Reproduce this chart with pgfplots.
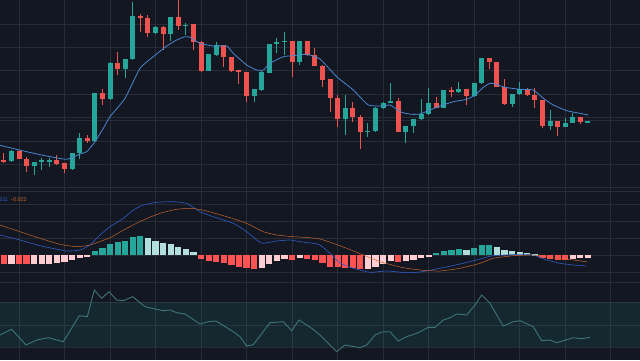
\documentclass[border=0pt]{standalone}
\usepackage{pgfplots}
\pgfplotsset{compat=1.18}
\usepackage{pgfplotstable}
\usepackage{fontspec}
\setmainfont{Liberation Sans}
\definecolor{bg}{HTML}{131722}
\definecolor{gridc}{HTML}{282C37}
\definecolor{sepc}{HTML}{363A46}
\definecolor{cgreen}{HTML}{26A69A}
\definecolor{cred}{HTML}{EF5350}
\definecolor{malc}{HTML}{4A86D0}
\definecolor{macdb}{HTML}{2F5CC4}
\definecolor{macdo}{HTML}{C8652E}
\definecolor{hgreen}{HTML}{26A69A}
\definecolor{hlgreen}{HTML}{B2DFDB}
\definecolor{hred}{HTML}{FF5252}
\definecolor{hpink}{HTML}{FFCDD2}
\definecolor{rsil}{HTML}{3F7478}

\pgfplotsset{
  candle/.style 2 args={draw=none, mark=none, forget plot,
    error bars/.cd, y dir=both, y explicit, error mark=none,
    error bar style={line width=#1, draw=#2}},
}

% candles: pixel y values (top, bottom of body; high, low of wick)
\pgfplotstableread{
i top bot hi lo
1 151 161 150 162
4 162.3 165.7 161.5 175
5 160.3 162.3 158.3 170
6 160 161 158 166.7
9 153.3 168.7 152.7 169.5
10 138.3 153.3 133.3 159.3
12 93.3 141.3 93 142
14 62.7 99.3 62 100
16 59 69.3 58.5 77.7
17 16 59 1.7 59.5
20 26.7 33.3 26 34
22 17.3 34 17 40.7
24 24.5 25.7 22.7 35
27 54 70.7 53.5 71
28 45 55 41.7 55.5
33 89.3 96 89 101.7
34 71.7 90 71 90.5
35 44.3 72.7 44 73
36 41.7 44.3 38.3 53.3
37 40.8 41.8 32.3 55
39 41 62.3 40.5 65
45 108.3 119 95 135
48 130.5 131.5 123 136.7
49 107.7 131 107 131.5
50 102.7 108.3 102 109
51 100.7 102.7 83.3 103
53 126 131.7 125.5 143.3
54 119 126 118.5 132.7
55 114.3 119 99.3 119.5
56 103.3 114.3 88.3 115
58 90 107.7 89.5 108
60 89 92.3 81.7 92.5
62 83.3 96 83 96.5
63 58.3 83.3 57.5 84
67 94.3 104 94 106.7
68 89.3 94.3 81.7 94.5
72 121 126 110 130
74 122.7 126.7 118.3 127
75 117.3 122.7 113.3 123.3
77 121.2 122.2 120.8 122.6
}\greencandles

\pgfplotstableread{
i top bot hi lo
0 160 161.3 152.7 162.7
2 151 158.7 149.5 159
3 158.7 165.7 157 171.7
7 160 164 155 164.5
8 163.3 168.7 162.5 173.3
11 138.3 141.3 135 142.7
13 93.3 99.3 89.3 105
15 62.7 69.3 51.7 75
18 15.7 18 14 31.7
19 18 33.3 15 36.7
21 26.7 34 26 50
23 17.3 26 0 30
25 24.3 41.7 24 50
26 41.7 70.7 41 71.5
29 45 57.3 44.5 66.7
30 57.3 70.7 57 71.5
31 70 72 69.5 84
32 71.7 96 71.5 101.7
38 41 62.3 40.5 76.7
40 41 55 40.5 55.5
41 55 65.7 48.3 66
42 65.7 80 65 87.3
43 79.3 97.7 79 111.7
44 97.7 119 95 126.7
46 108.3 116.7 101.7 121.7
47 116.7 131.7 115 149.3
52 100.7 131.7 98 132
57 102.7 107.7 96.7 108
59 90 92.3 86.7 96.7
61 89 96 88.5 105
64 58.3 62.3 57.5 69
65 62.3 86.7 62 87
66 86.7 104 79.3 104.5
69 89.3 95 87.7 95.5
70 95 100 88.3 108.3
71 100 126 99.5 127.7
73 121 126.7 120.5 136
76 117.3 122.3 116.5 123.5
}\redcandles

% MACD histogram (pixel y of bar end, zero at 255)
\pgfplotstableread{
i v
12 251
13 248.3
14 244
15 242.3
16 240.7
17 237.3
18 235.7
57 252.7
58 251
59 250
60 249.3
62 247.7
63 245.3
64 245
}\hg
\pgfplotstableread{
i v
19 238.3
20 240.7
21 243
22 244.3
23 246.7
24 249
25 252.3
61 249.7
65 247.3
66 250
67 251
68 252.3
69 253
70 254
}\hlg
\pgfplotstableread{
i v
0 264.3
2 264.3
3 264.3
26 259
27 260.7
28 261.7
29 263.3
30 265
31 266.7
32 268.3
33 269.3
38 260
40 259
41 260
42 263.3
43 266.7
44 267.3
45 267.5
46 268.3
47 269.3
52 261.7
71 257.7
72 259
73 259.7
74 260.3
}\hr
\pgfplotstableread{
i v
1 264.3
4 264.3
5 263.7
6 263.7
7 262.7
8 261.7
9 260
10 258.3
11 256.7
34 267.7
35 264.3
36 261
37 259
39 258.3
48 269
49 266.7
50 264
51 261
53 261
54 259.7
55 257.7
56 256
75 259
76 258.3
77 257.7
}\hp

\begin{document}
\begin{tikzpicture}
\begin{axis}[
  at={(0,0)}, anchor=south west,
  width=640pt, height=360pt, scale only axis,
  xmin=0, xmax=640, ymin=0, ymax=360, y dir=reverse,
  axis background/.style={fill=bg},
  axis line style={draw=none},
  major tick length=0pt,
  xticklabels={}, yticklabels={},
  xtick={19,64.52,110.04,155.56,201.08,246.6,292.12,337.64,383.16,428.68,474.2,519.72,565.24,610.76},
  ytick={24,47.4,70.8,94.2,117.6,141,164.4,187.8,204.3,221,238.3,255,272,302.3,325,347.3},
  extra y ticks={191.7,282.5,120.8},
  extra y tick labels={},
  extra y tick style={grid style={color=sepc, line width=0.8pt}},
  grid=major,
  major grid style={color=gridc, line width=0.8pt},
  clip=true,
]
% RSI band
\fill[cgreen, fill opacity=0.12] (axis cs:0,302.3) rectangle (axis cs:640,347.3);

% wicks
\addplot[candle={1pt}{cgreen}]
  table[x expr=3.828+7.586*\thisrow{i}, y expr=(\thisrow{hi}+\thisrow{lo})/2, y error expr=(\thisrow{lo}-\thisrow{hi})/2] {\greencandles};
\addplot[candle={1pt}{cred}]
  table[x expr=3.828+7.586*\thisrow{i}, y expr=(\thisrow{hi}+\thisrow{lo})/2, y error expr=(\thisrow{lo}-\thisrow{hi})/2] {\redcandles};
% bodies
\addplot[candle={5pt}{cgreen}]
  table[x expr=3.828+7.586*\thisrow{i}, y expr=(\thisrow{top}+\thisrow{bot})/2, y error expr=(\thisrow{bot}-\thisrow{top})/2] {\greencandles};
\addplot[candle={5pt}{cred}]
  table[x expr=3.828+7.586*\thisrow{i}, y expr=(\thisrow{top}+\thisrow{bot})/2, y error expr=(\thisrow{bot}-\thisrow{top})/2] {\redcandles};

% moving average
\addplot[malc, line width=0.8pt, mark=none, smooth, tension=0.3] coordinates {
(0,145.3)(26.7,151.7)(46.7,156)(66.7,159.3)(80,154)(86.7,151.7)(95,141.7)(103.3,128.3)(110,116.7)(125,98.3)(140,68.3)(153.3,56.7)(166.7,46)(176.7,40)(185,36.7)(190,37.3)(200,43.3)(213.3,46)(226.7,46)(233.3,53.3)(246.7,65)(256.7,70)(263.3,70)(270,63.3)(283.3,56.7)(293.3,55.7)(306.7,54.3)(320,59)(336.7,76.7)(353.3,90)(368.3,105)(383.3,106)(390,105)(401.7,112.3)(411.7,114.3)(420,114)(430,110)(440,106)(453.3,101.7)(466.7,99.3)(475,95)(483.3,87.3)(490,83.3)(495,84)(505,87.3)(520,89.3)(533.3,90)(543.3,98.3)(553.3,105)(566.7,110.7)(580,113.3)(588.3,115)
};

% MACD histogram
\addplot[candle={6.2pt}{hgreen}]
  table[x expr=3.828+7.586*\thisrow{i}, y expr=(255+\thisrow{v})/2, y error expr=abs(\thisrow{v}-255)/2] {\hg};
\addplot[candle={6.2pt}{hlgreen}]
  table[x expr=3.828+7.586*\thisrow{i}, y expr=(255+\thisrow{v})/2, y error expr=abs(\thisrow{v}-255)/2] {\hlg};
\addplot[candle={6.2pt}{hred}]
  table[x expr=3.828+7.586*\thisrow{i}, y expr=(255+\thisrow{v})/2, y error expr=abs(\thisrow{v}-255)/2] {\hr};
\addplot[candle={6.2pt}{hpink}]
  table[x expr=3.828+7.586*\thisrow{i}, y expr=(255+\thisrow{v})/2, y error expr=abs(\thisrow{v}-255)/2] {\hp};

% MACD line
\addplot[macdb, line width=0.6pt, mark=none, smooth, tension=0.3] coordinates {
(0,235)(20,240)(40,245.7)(66.7,251)(80,250)(90,245)(100,235)(110,226.7)(123.3,218.3)(133.3,210)(143.3,205)(156.7,202.3)(173.3,201.7)(186.7,203.3)(200,211.7)(213.3,216.7)(233.3,223.3)(246.7,231.7)(256.7,240)(263.3,243.3)(276.7,241)(290,240)(300,241.7)(313.3,243.3)(320,245)(330,253.3)(340,263)(353.3,268.3)(370,272.3)(386.7,271)(406.7,272.7)(420,272)(440,268.3)(463.3,263.3)(480,259)(493.3,255.7)(520,254.3)(533.3,255)(546.7,260)(560,263.3)(573.3,265)(586.7,266)
};
% signal line
\addplot[macdo, line width=0.5pt, mark=none, smooth, tension=0.3] coordinates {
(0,225)(20,231.7)(40,238.3)(60,244.3)(76.7,246.7)(90,245)(110,237.7)(126.7,228.3)(143.3,220)(160,213.3)(176.7,209.3)(191.7,208.3)(206.7,211)(226.7,216.7)(246.7,223.3)(263.3,231.7)(276.7,235)(293.3,236.7)(310,237.7)(320,239)(333.3,243.3)(346.7,248.3)(363.3,255)(380,261.7)(403.3,267.7)(423.3,270.3)(440,271)(460,268.3)(480,263.3)(493.3,258.3)(513.3,255.7)(533.3,255)(553.3,257.7)(573.3,260)(586.7,261.7)
};

% RSI
\addplot[rsil, line width=0.9pt, mark=none] coordinates {
(0,335)(11.7,329.3)(26,345)(36.7,340)(48.3,337.7)(63.3,341.7)(79.3,315.7)(87.3,316.7)(94.3,290)(101.7,298.3)(109,291.7)(116.7,300)(123.3,300.7)(132.7,296.7)(145,306.7)(155,309)(163.3,310.7)(170,310)(176.7,312.7)(185,314)(200,324)(208.3,321.7)(216,321)(233.3,331.7)(240,336.7)(246.7,346)(253.3,344.7)(270,322.7)(283.3,321.7)(291.7,330.7)(299,320)(311.7,328.3)(320,335)(336.7,351.7)(345,345)(360,347.7)(366.7,345)(375,335)(381.7,332)(390,331.7)(398.3,341)(406.7,336.7)(416.7,333.3)(420,331.7)(428.3,327.3)(435,327.3)(443.3,320)(450,317.7)(456.7,314)(466.7,315)(475,305)(481.7,295)(490,303.3)(496.7,315)(503.3,326)(513.3,321.7)(520,320.7)(533.3,326.7)(541.7,340.7)(550,340)(556.7,342.7)(573.3,337.7)(581.7,338.7)(590,337.3)
};

\node[anchor=base east, font=\fontsize{5.5}{6}\selectfont, text=macdb, inner sep=0pt] at (axis cs:8.5,201.5) {-0.011};
\node[anchor=base west, font=\fontsize{5.5}{6}\selectfont, text=macdo, inner sep=0pt] at (axis cs:11,201.5) {-0.022};
\end{axis}
\pgfresetboundingbox
\useasboundingbox (0,0) rectangle (640pt,360pt);
\end{tikzpicture}
\end{document}
